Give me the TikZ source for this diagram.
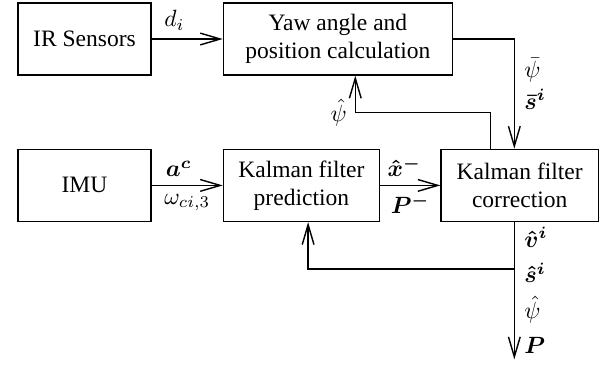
\documentclass[tikz,border=0pt]{standalone}
\usepackage[no-math]{fontspec}
\setmainfont{Liberation Serif}
\usepackage{amsmath}
\usetikzlibrary{positioning,arrows.meta}

\begin{document}
\begin{tikzpicture}[>={Straight Barb[length=8.5pt,width=5pt]}, line width=0.6pt,
    block/.style={draw,minimum height=1.076cm,align=center,inner sep=2pt},
    lbl/.style={inner sep=0pt}]
    \useasboundingbox (-1.262,0.583) rectangle (7.702,-4.870);

    \node[block,minimum width=1.99cm] (irs) at (0,0) {IR Sensors};
    \node[block,minimum width=3.42cm,right=1.06cm of irs] (yaw)
      {Yaw angle and\\position calculation};
    \node[block,minimum width=1.99cm,below=1.09cm of irs] (imu) {IMU};
    \node[block,minimum width=2.33cm,right=1.06cm of imu] (kfpred)
      {Kalman filter\\prediction};
    \node[block,minimum width=2.35cm,right=0.90cm of kfpred] (kfcorr)
      {Kalman filter\\correction};

    \coordinate (corrout) at ([xshift=-0.08cm]kfcorr.south);
    \coordinate (split) at ([yshift=-0.70cm]corrout);
    \coordinate (out) at ([yshift=-2.05cm]corrout);

    \draw[->] (irs) -- node[above,pos=0.32] {$d_i$} (yaw);
    \draw[->] (imu) -- node[above,pos=0.38] {$\boldsymbol{a^c}$}
      node[below] {$\omega_{ci,3}$} (kfpred);
    \draw[->] (kfpred) -- node[above,pos=0.4] {$\boldsymbol{\hat{x}^-}$}
      node[below] {$\boldsymbol{P^-}$} (kfcorr);
    \draw[->] (yaw.east) -| node[lbl,pos=0.64,right=4pt] {$\bar{\psi}$}
      node[lbl,pos=0.775,right=4pt] {$\boldsymbol{\bar{s}^i}$} ([xshift=-0.08cm]kfcorr.north);
    \draw[->] ([xshift=-0.44cm]kfcorr.north) -- ++(0,0.54)
      -| node[pos=0.5,left] {$\hat{\psi}$} ([xshift=0.26cm]yaw.south);
    \draw[->] (corrout) -- node[lbl,pos=0.11,right=4pt] {$\boldsymbol{\hat{v}^i}$}
      node[lbl,pos=0.37,right=4pt] {$\boldsymbol{\hat{s}^i}$}
      node[lbl,pos=0.635,right=4pt] {$\hat{\psi}$}
      node[lbl,pos=0.9,right=4pt] {$\boldsymbol{P}$} (out);
    \draw[->] (split) -| ([xshift=0.1cm]kfpred.south);
\end{tikzpicture}
\end{document}
